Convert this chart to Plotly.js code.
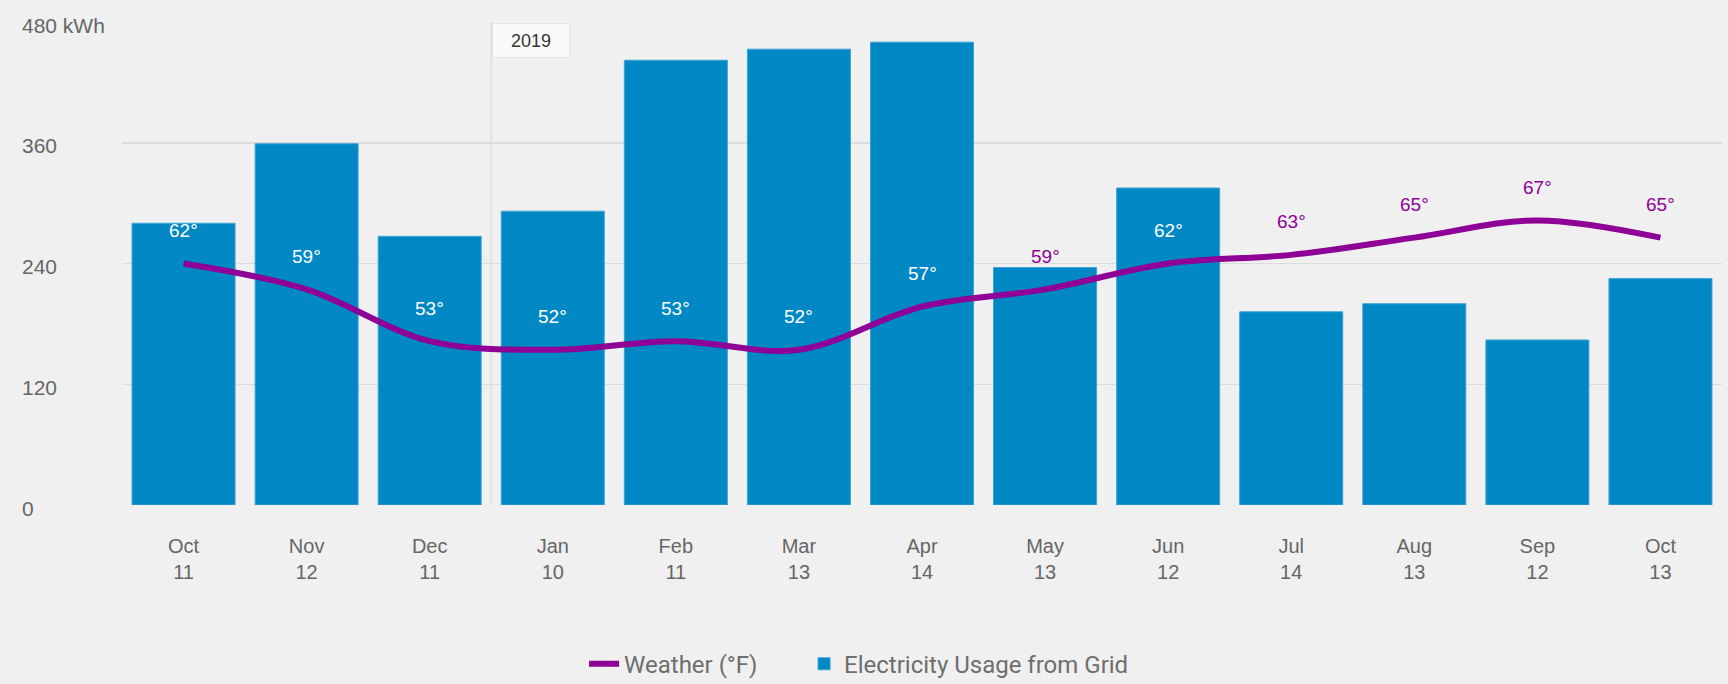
<!DOCTYPE html>
<html>
<head>
<meta charset="utf-8">
<script src="https://cdn.plot.ly/plotly-3.0.1.min.js"></script>
<style>
  html, body { margin: 0; padding: 0; background: #f0f0f0; }
  #chart { width: 1728px; height: 684px; }
</style>
</head>
<body>
<div id="chart"></div>
<script>
// ---- data ----
const months = ["Oct", "Nov", "Dec", "Jan", "Feb", "Mar", "Apr", "May", "Jun", "Jul", "Aug", "Sep", "Oct"];
const days = ["11", "12", "11", "10", "11", "13", "14", "13", "12", "14", "13", "12", "13"];
const usageKwh = [280, 359, 267, 292, 442, 453, 460, 236, 315, 192, 200, 164, 225];
const weatherF = [62, 59, 53, 52, 53, 52, 57, 59, 62, 63, 65, 67, 65];
const yTickVals = [0, 120, 240, 360, 480];
const yTickText = ["0", "120", "240", "360", "480 kWh"];
const yearLabel = "2019";
const yearStartIndex = 3;

// ---- style ----
const barColor = "#0088c4";
const lineColor = "#8e0096";
const labelColors = ["#ffffff", "#ffffff", "#ffffff", "#ffffff", "#ffffff", "#ffffff", "#ffffff",
                     lineColor, "#ffffff", lineColor, lineColor, lineColor, lineColor];
const gridColor = "#dcdcdc";
const textGray = "#666666";
const baseFont = "Liberation Sans, Arial, sans-serif";

// category keys (unique) and two-line tick labels
const cats = months.map((m, i) => i);
const tickText = months.map((m, i) => m + "<br>" + days[i]);

const traces = [
  {
    type: "scatter",
    mode: "lines",
    name: "Weather (°F)",
    x: cats,
    y: weatherF,
    yaxis: "y2",
    legendwidth: 175,
    line: { color: lineColor, width: 6, shape: "spline", smoothing: 1 },
    hoverinfo: "skip"
  },
  {
    type: "bar",
    name: "Electricity Usage from Grid",
    x: cats,
    y: usageKwh,
    marker: { color: barColor, line: { color: "#3ea2d6", width: 1 } },
    hoverinfo: "skip"
  }
];

const annotations = [];
// y tick labels, left aligned
yTickVals.forEach((v, i) => {
  annotations.push({
    xref: "paper", yref: "y", x: -0.0635, y: v, xanchor: "left", yanchor: "middle",
    text: yTickText[i], showarrow: false, yshift: -3,
    font: { family: baseFont, size: 21, color: textGray }
  });
});
// temperature labels
weatherF.forEach((t, i) => {
  annotations.push({
    xref: "x", yref: "y2", x: cats[i], y: t, yshift: 33,
    xanchor: "center", yanchor: "middle",
    text: t + "°", showarrow: false,
    font: { family: baseFont, size: 19, color: labelColors[i] }
  });
});
// year marker box
annotations.push({
  xref: "x", yref: "paper", x: yearStartIndex - 0.5, y: 1, xanchor: "left", yanchor: "top",
  xshift: 1, yshift: -1,
  text: yearLabel, showarrow: false,
  width: 76, height: 33, borderpad: 0,
  bgcolor: "#fafafa", bordercolor: "#e4e4e4", borderwidth: 1,
  font: { family: baseFont, size: 18, color: "#333333" }
});

const layout = {
  width: 1728,
  height: 684,
  paper_bgcolor: "#f0f0f0",
  plot_bgcolor: "#f0f0f0",
  margin: { l: 122, r: 6, t: 22, b: 179 },
  bargap: 0.163,
  showlegend: true,
  legend: {
    orientation: "h",
    xref: "container", yref: "container",
    x: 0.338, xanchor: "left",
    y: 0.029, yanchor: "middle",
    bgcolor: "rgba(0,0,0,0)",
    font: { family: "Roboto, sans-serif", size: 24, color: "#6e6e6e" }
  },
  xaxis: {
    type: "linear",
    range: [-0.5, months.length - 0.5],
    tickmode: "array",
    tickvals: cats,
    ticktext: tickText,
    showgrid: false,
    zeroline: false,
    showline: false,
    ticks: "",
    ticklabelstandoff: 27,
    tickfont: { family: baseFont, size: 20, color: textGray }
  },
  yaxis: {
    range: [0, 480],
    tickmode: "array",
    tickvals: yTickVals,
    showticklabels: false,
    showgrid: true,
    gridcolor: gridColor,
    gridwidth: 1.5,
    zeroline: false,
    showline: false,
    ticks: ""
  },
  yaxis2: {
    overlaying: "y",
    side: "right",
    range: [34, 90],
    showgrid: false,
    showticklabels: false,
    zeroline: false,
    showline: false,
    ticks: ""
  },
  shapes: [
    {
      type: "line", xref: "x", yref: "paper",
      x0: yearStartIndex - 0.5, x1: yearStartIndex - 0.5, y0: 0, y1: 1,
      line: { color: "#dedede", width: 1.5 }, layer: "below"
    }
  ],
  annotations: annotations
};

Plotly.newPlot("chart", traces, layout, { staticPlot: true, displayModeBar: false });
</script>
</body>
</html>
